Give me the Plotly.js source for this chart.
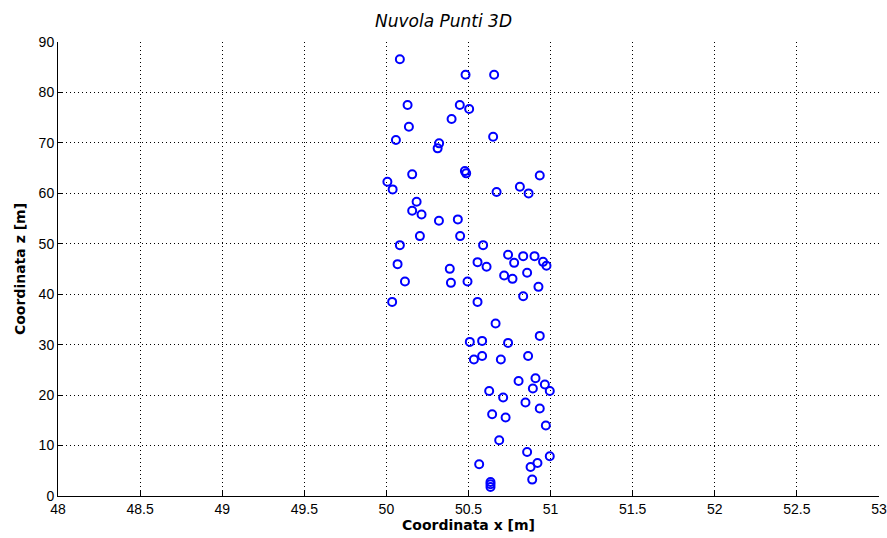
<!DOCTYPE html>
<html>
<head>
<meta charset="utf-8">
<script src="https://cdn.plot.ly/plotly-3.0.1.min.js"></script>
<style>html,body{margin:0;padding:0;background:#fff;}#chart{width:887px;height:538px;}</style>
</head>
<body>
<div id="chart"></div>
<script>
const xCoord = [50.082,50.482,50.656,50.129,50.447,50.504,50.397,50.137,50.058,50.650,50.321,50.312,50.157,50.478,50.486,50.934,50.006,50.038,50.671,50.813,50.866,50.184,50.157,50.214,50.320,50.435,50.204,50.449,50.082,50.589,50.068,50.741,50.833,50.902,50.778,50.954,50.975,50.555,50.610,50.386,50.393,50.494,50.113,50.717,50.768,50.857,50.926,50.833,50.035,50.555,50.665,50.934,50.508,50.583,50.741,50.533,50.583,50.697,50.863,50.805,50.908,50.892,50.965,50.995,50.626,50.711,50.847,50.934,50.644,50.726,50.971,50.687,50.857,50.995,50.565,50.920,50.878,50.888,50.634,50.634,50.634];
const zCoord = [86.57,83.52,83.52,77.50,77.50,76.71,74.73,73.20,70.56,71.22,69.91,68.92,63.76,64.41,63.96,63.52,62.29,60.78,60.25,61.30,59.99,58.32,56.54,55.82,54.55,54.83,51.52,51.52,49.73,49.73,45.96,47.81,47.55,47.55,46.22,46.42,45.63,46.36,45.43,45.03,42.25,42.53,42.53,43.72,43.05,44.24,41.46,39.61,38.48,38.48,34.20,31.74,30.55,30.75,30.35,27.06,27.77,27.06,27.77,22.81,23.35,21.31,22.10,20.83,20.83,19.52,18.53,17.34,16.21,15.55,13.97,11.05,8.73,7.88,6.29,6.55,5.75,3.25,2.78,2.32,1.79];
const xTicks = [48,48.5,49,49.5,50,50.5,51,51.5,52,52.5,53];
const yTicks = [0,10,20,30,40,50,60,70,80,90];

const font = 'Liberation Sans, Arial, sans-serif';
const bfont = 'DejaVu Sans, sans-serif';
Plotly.newPlot('chart', [{
  x: xCoord, y: zCoord, type: 'scatter', mode: 'markers',
  marker: {symbol: 'circle-open', size: 8, color: '#0000ff', line: {width: 2, color: '#0000ff'}},
  hoverinfo: 'none'
}], {
  width: 887, height: 538,
  margin: {l: 58, r: 8, t: 42, b: 42},
  paper_bgcolor: '#fff', plot_bgcolor: '#fff',
  showlegend: false,
  font: {family: font, size: 14, color: '#000'},
  title: {text: '<i>Nuvola Punti 3D</i>', x: 0.5, xanchor: 'center', y: 0.961, yanchor: 'middle', font: {family: bfont, size: 17, color: '#000'}},
  xaxis: {
    range: [48, 53], tickvals: xTicks, ticktext: xTicks.map(String),
    showline: true, linecolor: '#000', linewidth: 1, mirror: false,
    ticks: 'inside', ticklen: 5, tickcolor: '#000',
    showgrid: true, gridcolor: '#000', griddash: '1px,3px', gridwidth: 1,
    zeroline: false, tickfont: {family: font, size: 14, color: '#000'},
    title: {text: '<b>Coordinata x [m]</b>', standoff: 4, font: {family: bfont, size: 14, color: '#000'}}
  },
  yaxis: {
    range: [0, 90], tickvals: yTicks, ticktext: yTicks.map(String),
    showline: true, linecolor: '#000', linewidth: 1, mirror: false,
    ticks: 'inside', ticklen: 5, tickcolor: '#000',
    showgrid: true, gridcolor: '#000', griddash: '1px,3px', gridwidth: 1,
    zeroline: false, tickfont: {family: font, size: 14, color: '#000'},
    title: {text: '<b>Coordinata z [m]</b>', standoff: 9, font: {family: bfont, size: 14, color: '#000'}}
  }
}, {staticPlot: true});
</script>
</body>
</html>
